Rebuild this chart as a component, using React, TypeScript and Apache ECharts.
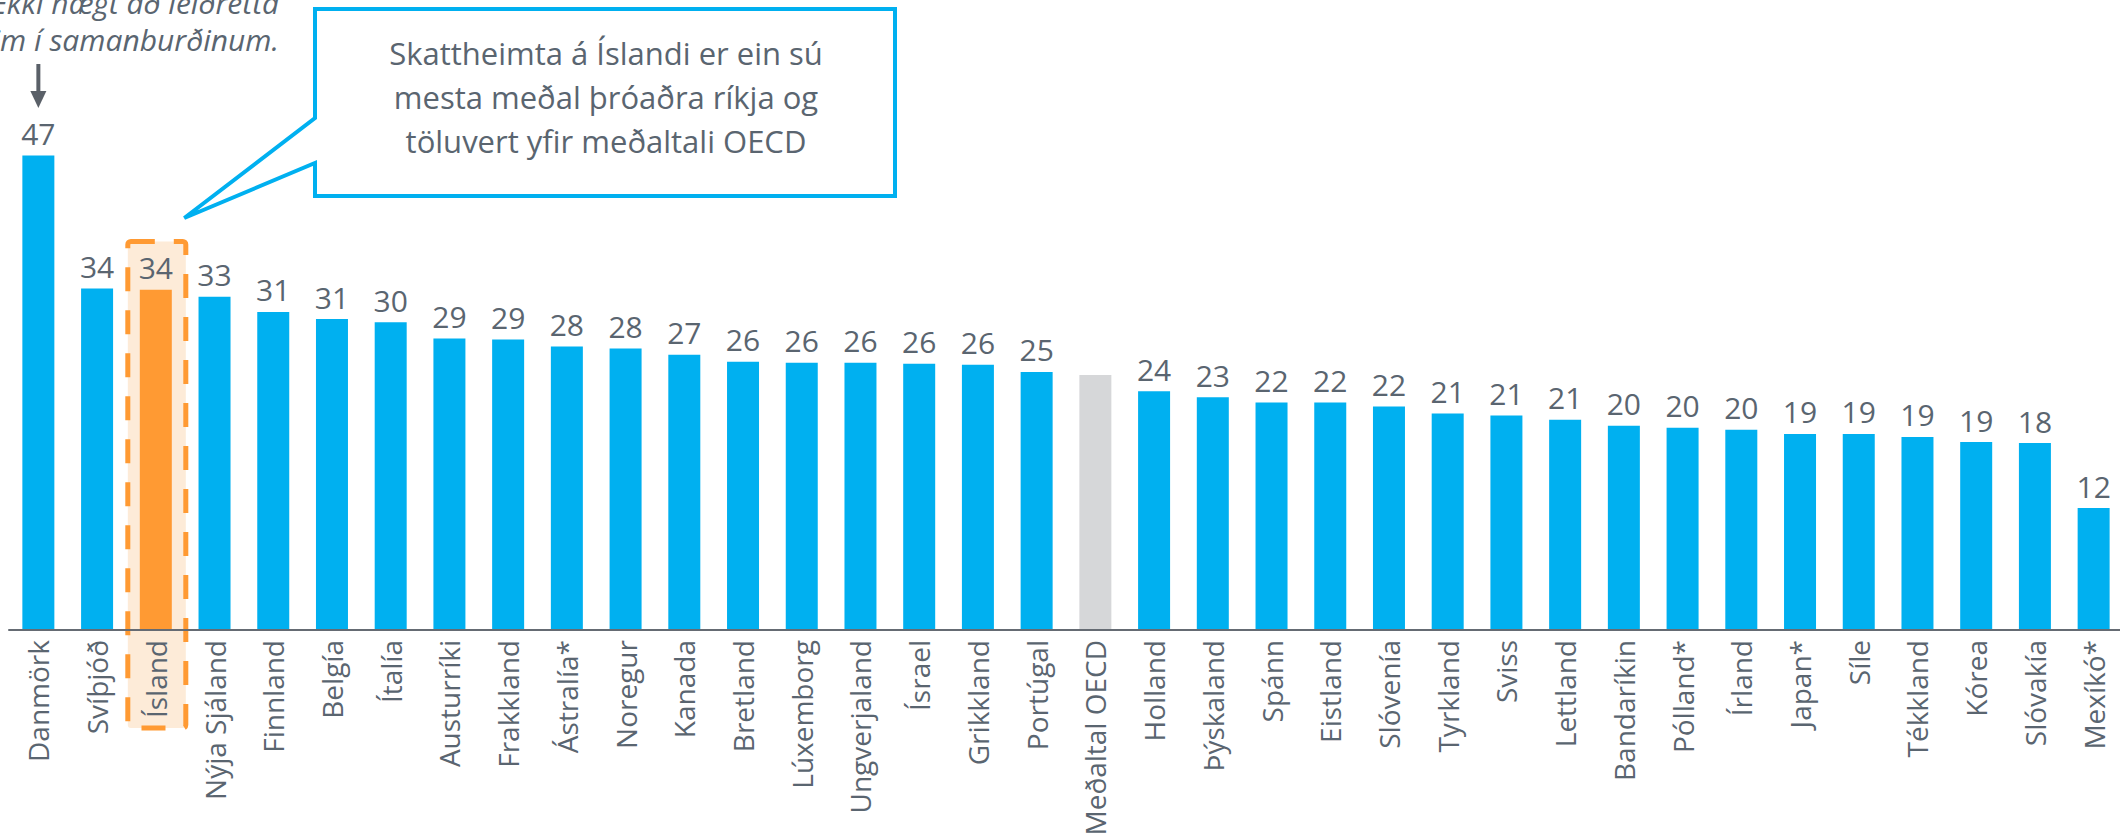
import React, { useEffect, useRef } from "react";
import * as echarts from "echarts";

const categories = [
  "Danmörk", "Svíþjóð", "Ísland", "Nýja Sjáland", "Finnland", "Belgía", "Ítalía",
  "Austurríki", "Frakkland", "Ástralía*", "Noregur", "Kanada", "Bretland", "Lúxemborg",
  "Ungverjaland", "Ísrael", "Grikkland", "Portúgal", "Meðaltal OECD", "Holland",
  "Þýskaland", "Spánn", "Eistland", "Slóvenía", "Tyrkland", "Sviss", "Lettland",
  "Bandaríkin", "Pólland*", "Írland", "Japan*", "Síle", "Tékkland", "Kórea",
  "Slóvakía", "Mexíkó*",
];

const values = [
  46.7, 33.6, 33.5, 32.8, 31.3, 30.6, 30.3,
  28.7, 28.6, 27.9, 27.7, 27.1, 26.4, 26.3,
  26.3, 26.2, 26.1, 25.4, 25.1, 23.5,
  22.9, 22.4, 22.4, 22.0, 21.3, 21.1, 20.7,
  20.1, 19.9, 19.7, 19.3, 19.3, 19.0, 18.5,
  18.4, 12.0,
];

const HIGHLIGHT = "Ísland";
const AVERAGE = "Meðaltal OECD";

const calloutLines = [
  "Skattheimta á Íslandi er ein sú",
  "mesta meðal þróaðra ríkja og",
  "töluvert yfir meðaltali OECD",
];

const noteLines = ["Ekki hægt að leiðrétta", "þeim í samanburðinum."];

const BLUE = "#00B0F0";
const ORANGE = "#FF9A33";
const GREY = "#D6D7D9";
const TEXT = "#5A6570";
const FONT = "'Open Sans', sans-serif";

export default function App() {
  const ref = useRef<HTMLDivElement>(null);

  useEffect(() => {
    const chart = echarts.init(ref.current!, null, { renderer: "svg" });
    chart.setOption({
      animation: false,
      textStyle: { fontFamily: FONT },
      grid: {
        left: 9,
        width: 2114,
        top: 122,
        height: 508,
        containLabel: false,
        outerBoundsMode: "none",
      },
      xAxis: {
        type: "category",
        data: categories,
        z: 3,
        axisTick: { show: false },
        axisLine: { lineStyle: { color: "#656B73", width: 2 } },
        axisLabel: {
          rotate: 90,
          margin: 10,
          interval: 0,
          fontSize: 28,
          color: TEXT,
          fontFamily: FONT,
        },
      },
      yAxis: { type: "value", min: 0, max: 50, show: false, splitLine: { show: false } },
      series: [
        {
          type: "bar",
          z: 2,
          barWidth: 32,
          data: values.map((v, i) => {
            const c = categories[i];
            const color = c === HIGHLIGHT ? ORANGE : c === AVERAGE ? GREY : BLUE;
            const item: any = { value: v, itemStyle: { color } };
            if (c === AVERAGE) item.label = { show: false };
            return item;
          }),
          label: {
            show: true,
            position: "top",
            distance: 7,
            fontSize: 30,
            color: TEXT,
            fontFamily: FONT,
            formatter: (p: any) => String(Math.round(p.value)),
          },
        },
      ],
    });

    const ix = chart.convertToPixel({ gridIndex: 0 }, [HIGHLIGHT, 0])[0];
    const dx = chart.convertToPixel({ gridIndex: 0 }, [categories[0], 0])[0];

    const elements: any[] = [
      {
        type: "rect",
        z: 1,
        shape: { x: ix - 28, y: 241.5, width: 58, height: 486.5, r: 3 },
        style: { fill: "#FDEBD8", stroke: ORANGE, lineWidth: 5, lineDash: [24, 19] },
      },
      {
        type: "polygon",
        z: 10,
        shape: {
          points: [
            [315, 9], [895, 9], [895, 196], [315, 196], [315, 163],
            [ix + 28.5, 218], [315, 118],
          ],
        },
        style: { fill: "#ffffff", stroke: BLUE, lineWidth: 4, lineJoin: "miter" },
      },
      ...calloutLines.map((t, i) => ({
        type: "text",
        z: 11,
        style: {
          text: t,
          x: 606,
          y: 53 + i * 44,
          textAlign: "center",
          textVerticalAlign: "middle",
          fontSize: 31,
          fontFamily: FONT,
          fill: TEXT,
        },
      })),
      ...noteLines.map((t, i) => ({
        type: "text",
        z: 11,
        style: {
          text: t,
          x: 279,
          y: 2 + i * 37,
          textAlign: "right",
          textVerticalAlign: "middle",
          fontSize: 30,
          fontStyle: "italic",
          fontFamily: FONT,
          fill: TEXT,
        },
      })),
      {
        type: "line",
        z: 11,
        shape: { x1: dx, y1: 64, x2: dx, y2: 94 },
        style: { stroke: "#5A6068", lineWidth: 4 },
      },
      {
        type: "polygon",
        z: 11,
        shape: { points: [[dx - 8, 91], [dx + 8, 91], [dx, 108]] },
        style: { fill: "#5A6068" },
      },
    ];

    chart.setOption({ graphic: { elements } });

    return () => chart.dispose();
  }, []);

  return (
    <div
      ref={ref}
      style={{ position: "fixed", left: 0, top: 0, width: 2120, height: 838, background: "#ffffff" }}
    />
  );
}
